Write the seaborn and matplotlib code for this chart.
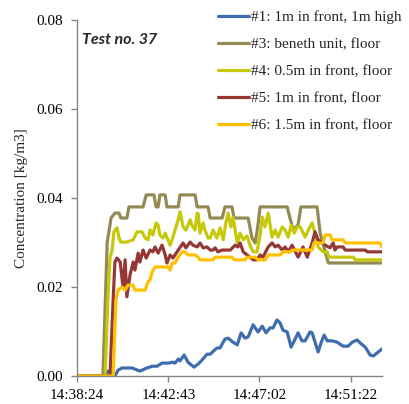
import matplotlib
matplotlib.use("Agg")
import matplotlib.pyplot as plt
import seaborn as sns
import pandas as pd

# ---- data (time in seconds after 14:38:24, concentration in kg/m3) ----
labels = ["#1: 1m in front, 1m high", "#3: beneth unit, floor", "#4: 0.5m in front, floor",
          "#5: 1m in front, floor", "#6: 1.5m in front, floor"]
colors = ["#3E6DAE", "#948A54", "#C6C80A", "#953735", "#FFC000"]

t1 = [0, 82, 87, 93, 99, 107, 116, 127, 156, 178, 198, 213, 227, 241, 258, 272, 278, 287, 292, 304,
      315, 332, 344, 355, 369, 378, 397, 406, 420, 429, 443, 455, 466, 477, 486, 500, 514, 526, 537,
      548, 557, 568, 577, 585, 597, 608, 614, 628, 639, 648, 662, 668, 685, 694, 702, 711, 725, 739,
      756, 770, 782, 796, 805, 819, 833, 842, 853, 867]
v1 = [0, 0, 0.0011, 0.0011, 0, 0, 0.0013, 0.0018, 0.0018, 0.0011, 0.0018, 0.0022, 0.0022, 0.0029,
      0.0029, 0.0031, 0.0029, 0.0038, 0.0034, 0.0047, 0.0031, 0.0020, 0.0027, 0.0036, 0.0049, 0.0049,
      0.0063, 0.0063, 0.0083, 0.0085, 0.0076, 0.0070, 0.0097, 0.0085, 0.0088, 0.0115, 0.0099, 0.0112,
      0.0097, 0.0108, 0.0108, 0.0126, 0.0119, 0.0103, 0.0099, 0.0065, 0.0074, 0.0097, 0.0079, 0.0079,
      0.0099, 0.0097, 0.0054, 0.0076, 0.0092, 0.0079, 0.0079, 0.0076, 0.0067, 0.0067, 0.0076, 0.0081,
      0.0074, 0.0065, 0.0047, 0.0045, 0.0052, 0.0061]

t3 = [0, 73, 85, 96, 107, 119, 124, 141, 147, 187, 196, 218, 224, 230, 235, 250, 255, 287, 292, 335,
      341, 372, 378, 412, 420, 440, 446, 486, 497, 506, 514, 520, 597, 605, 614, 628, 636, 682, 691,
      714, 867]
v3 = [0, 0, 0.030, 0.0355, 0.0366, 0.0366, 0.0355, 0.0355, 0.038, 0.038, 0.0407, 0.0407, 0.038,
      0.038, 0.0407, 0.0407, 0.038, 0.038, 0.0407, 0.0407, 0.038, 0.038, 0.0355, 0.0355, 0.038, 0.038,
      0.0355, 0.0355, 0.031, 0.0299, 0.034, 0.038, 0.038, 0.0355, 0.0328, 0.034, 0.038, 0.038, 0.032,
      0.0254, 0.0254]

t4 = [0, 79, 87, 93, 99, 104, 113, 119, 124, 141, 159, 170, 184, 193, 201, 207, 215, 224, 230, 235,
      244, 250, 258, 264, 272, 278, 287, 292, 301, 309, 321, 326, 335, 341, 344, 349, 358, 363, 372,
      378, 386, 397, 406, 415, 423, 429, 437, 443, 455, 463, 472, 483, 491, 500, 511, 520, 526, 534,
      543, 554, 563, 571, 583, 591, 600, 608, 617, 625, 634, 648, 657, 668, 676, 685, 699, 711, 716,
      785, 791, 867]
v4 = [0, 0, 0.0171, 0.0265, 0.0283, 0.0324, 0.0333, 0.0310, 0.0301, 0.0301, 0.0306, 0.0324, 0.0324,
      0.0310, 0.0306, 0.0328, 0.0317, 0.0344, 0.0339, 0.0317, 0.0310, 0.0321, 0.0306, 0.0294, 0.0312,
      0.0328, 0.0351, 0.0369, 0.0335, 0.0328, 0.0351, 0.0339, 0.0328, 0.0366, 0.0364, 0.0321, 0.0344,
      0.0328, 0.0310, 0.0310, 0.0328, 0.0310, 0.0333, 0.0306, 0.0346, 0.0366, 0.0335, 0.0357, 0.0299,
      0.0321, 0.0306, 0.0315, 0.0294, 0.0279, 0.0279, 0.0317, 0.0357, 0.0335, 0.0366, 0.0312, 0.0328,
      0.0312, 0.0335, 0.0328, 0.0312, 0.0339, 0.0321, 0.0335, 0.0335, 0.0312, 0.0328, 0.0344, 0.0321,
      0.0290, 0.0279, 0.0279, 0.0267, 0.0267, 0.0261, 0.0261]

t5 = [0, 93, 102, 107, 113, 122, 130, 136, 141, 150, 159, 164, 173, 178, 187, 196, 207, 215, 221,
      230, 241, 250, 255, 264, 272, 287, 301, 309, 321, 329, 341, 349, 358, 369, 378, 386, 392, 400,
      412, 435, 449, 457, 463, 472, 483, 500, 511, 520, 528, 543, 554, 563, 571, 583, 591, 600, 611,
      628, 642, 654, 668, 676, 685, 705, 719, 728, 733, 739, 756, 762, 819, 825, 867]
v5 = [0, 0, 0.0171, 0.0256, 0.0265, 0.0256, 0.0200, 0.0261, 0.0178, 0.0227, 0.0256, 0.0238, 0.0276,
      0.0256, 0.0283, 0.0265, 0.0283, 0.0279, 0.0290, 0.0276, 0.0294, 0.0272, 0.0254, 0.0272, 0.0265,
      0.0283, 0.0299, 0.0288, 0.0301, 0.0294, 0.0290, 0.0299, 0.0288, 0.0290, 0.0283, 0.0283, 0.0288,
      0.0279, 0.0283, 0.0283, 0.0294, 0.0290, 0.0299, 0.0279, 0.0272, 0.0261, 0.0261, 0.0272, 0.0267,
      0.0290, 0.0299, 0.0290, 0.0294, 0.0283, 0.0290, 0.0279, 0.0294, 0.0267, 0.0290, 0.0267, 0.0299,
      0.0324, 0.0306, 0.0294, 0.0288, 0.0299, 0.0283, 0.0290, 0.0290, 0.0283, 0.0283, 0.0279, 0.0279]

t6 = [0, 102, 110, 116, 127, 136, 144, 159, 164, 193, 201, 207, 213, 221, 244, 258, 264, 270, 278,
      287, 298, 306, 315, 335, 344, 349, 386, 392, 440, 446, 477, 483, 506, 514, 534, 543, 577, 585,
      605, 611, 668, 673, 699, 705, 719, 725, 756, 762, 861, 867]
v6 = [0, 0, 0.0171, 0.0193, 0.0200, 0.0193, 0.0204, 0.0204, 0.0193, 0.0193, 0.0211, 0.0216, 0.0234,
      0.0245, 0.0245, 0.0245, 0.0238, 0.0254, 0.0254, 0.0267, 0.0279, 0.0279, 0.0272, 0.0272, 0.0267,
      0.0261, 0.0261, 0.0267, 0.0267, 0.0261, 0.0261, 0.0267, 0.0267, 0.0261, 0.0261, 0.0272, 0.0272,
      0.0279, 0.0279, 0.0283, 0.0283, 0.0299, 0.0299, 0.0317, 0.0317, 0.0306, 0.0306, 0.0299, 0.0299,
      0.0290]

start_time = "14:38:24"
tick_labels = ["14:38:24", "14:42:43", "14:47:02", "14:51:22"]
y_ticks = [0.00, 0.02, 0.04, 0.06, 0.08]
annotation = "Test no. 37"

# ---- build long table ----
frames = []
for lab, t, v in zip(labels, [t1, t3, t4, t5, t6], [v1, v3, v4, v5, v6]):
    frames.append(pd.DataFrame({"t": t, "v": v, "series": lab}))
df = pd.concat(frames, ignore_index=True)


def to_sec(s):
    h, m, sec = (int(p) for p in s.split(":"))
    return h * 3600 + m * 60 + sec


base = to_sec(start_time)
tick_pos = [to_sec(s) - base for s in tick_labels]

sns.set_style("white")
plt.rcParams["font.family"] = ["Liberation Serif", "DejaVu Serif"]

fig = plt.figure(figsize=(4.10, 4.04), dpi=100)
ax = fig.add_axes([0.1885, 0.0693, 0.7435, 0.8812])

sns.lineplot(data=df, x="t", y="v", hue="series", hue_order=labels,
             palette=dict(zip(labels, colors)), estimator=None, linewidth=2.3,
             ax=ax, legend=True)

ax.set_xlim(0, 867)
ax.set_ylim(0, 0.08)
ax.set_xticks(tick_pos)
ax.set_xticklabels(tick_labels)
ax.set_yticks(y_ticks)
ax.set_yticklabels([f"{y:.2f}" for y in y_ticks])
ax.set_xlabel("")
ax.set_ylabel("Concentration [kg/m3]", fontsize=11, labelpad=6)

for side in ["top", "right"]:
    ax.spines[side].set_visible(False)
for side in ["left", "bottom"]:
    ax.spines[side].set_color("#868686")
    ax.spines[side].set_linewidth(1.0)
ax.tick_params(axis="both", which="major", direction="out", length=4, width=1,
               color="#868686", labelsize=11, labelcolor="black",
               left=True, bottom=True)
ax.tick_params(axis="y", pad=6)
ax.tick_params(axis="x", pad=5.5)

ax.text(0.015, 0.944, annotation, transform=ax.transAxes, fontsize=11.5,
        fontweight="bold", fontstyle="italic", family=["Lato", "DejaVu Sans"],
        ha="left", va="center")

handles, labs = ax.get_legend_handles_labels()
leg = ax.legend(handles, labs, loc="upper left", bbox_to_anchor=(0.532, 0.975),
                bbox_transform=fig.transFigure, frameon=False, fontsize=11,
                handlelength=2.0, handletextpad=0.15, labelspacing=0.88,
                borderpad=0, borderaxespad=0)
for line in leg.get_lines():
    line.set_linewidth(2.3)

fig.savefig("out.png", dpi=100)
